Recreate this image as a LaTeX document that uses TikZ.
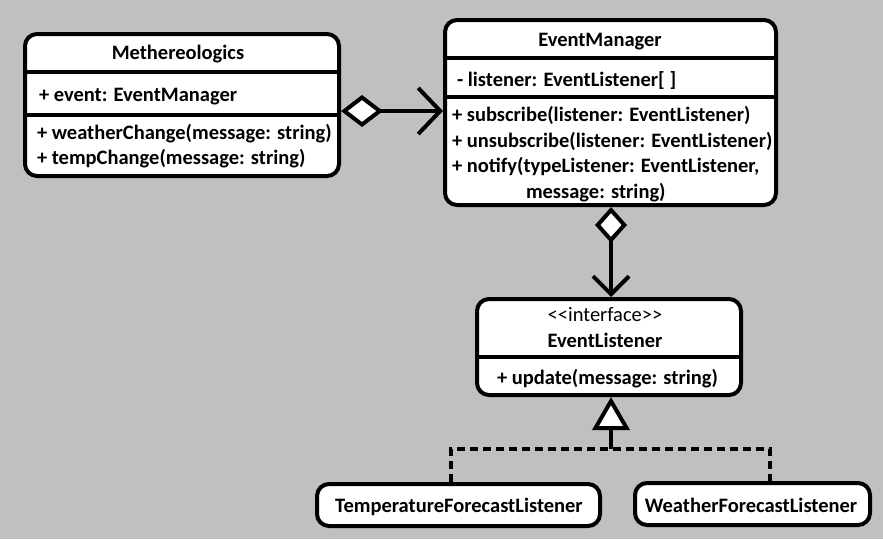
\documentclass[tikz,border=0pt]{standalone}
\usepackage{fontspec}
\newfontfamily\calib{Carlito}
\usetikzlibrary{arrows.meta}
\definecolor{bggray}{HTML}{C0C0C0}
\begin{document}
\begin{tikzpicture}[x=1pt,y=-1pt,line width=4pt,
  classbox/.style={draw=black,fill=white,rounded corners=12pt,inner sep=0pt},
  txt/.style={inner sep=0pt,font=\calib\bfseries\fontsize{20.5}{24}\selectfont,anchor=base west},
  txtr/.style={inner sep=0pt,font=\calib\fontsize{20.5}{24}\selectfont,anchor=base},
  sep/.style={draw=black,line width=4pt},
  dashline/.style={line width=4pt,dash pattern=on 8pt off 5pt}]
\fill[bggray] (0,0) rectangle (883,539);
\useasboundingbox (0,0) rectangle (883,539);
% boxes
\node[classbox,minimum width=314pt,minimum height=142pt] (meth) at (182,105) {};
\node[classbox,minimum width=331pt,minimum height=185pt] (em) at (610.5,112.5) {};
\node[classbox,minimum width=264pt,minimum height=96pt] (el) at (609,347) {};
\node[classbox,minimum width=283pt,minimum height=42pt] (tfl) at (458.5,505) {};
\node[classbox,minimum width=235pt,minimum height=42pt] (wfl) at (752.5,504) {};
% separators
\draw[sep] (meth.west |- 0,72) -- (meth.east |- 0,72);
\draw[sep] (meth.west |- 0,115) -- (meth.east |- 0,115);
\draw[sep] (em.west |- 0,58) -- (em.east |- 0,58);
\draw[sep] (em.west |- 0,97) -- (em.east |- 0,97);
\draw[sep] (el.west |- 0,357) -- (el.east |- 0,357);
% texts
\node[txt,anchor=base] (t1) at (178,59) {Methereologics};
\node[txt] (t2) at (37,101) {+ event: EventManager};
\node[txt] (t3) at (35,139) {+ weatherChange(message: string)};
\node[txt] (t4) at (35,164.5) {+ tempChange(message: string)};
\node[txt,anchor=base] (t5) at (600,46) {EventManager};
\node[txt] (t6) at (455,86) {- listener: EventListener[ ]};
\node[txt] (t7) at (450,121.7) {+ subscribe(listener: EventListener)};
\node[txt] (t8) at (450,147) {+ unsubscribe(listener: EventListener)};
\node[txt] (t9) at (450,172.5) {+ notify(typeListener: EventListener,};
\node[txt] (t10) at (524,198) {message: string)};
\node[txtr] (t11) at (605,321) {<<interface>>};
\node[txt,anchor=base] (t12) at (605,347.5) {EventListener};
\node[txt] (t13) at (495,384) {+ update(message: string)};
\node[txt,anchor=base] (t14) at (459,512.5) {TemperatureForecastListener};
\node[txt,anchor=base] (t15) at (751,512) {WeatherForecastListener};
% connectors
\draw[{Diamond[fill=white,length=42pt,width=32pt]}-{Straight Barb[length=22pt,width=46pt]}]
  (meth.east |- 0,111) -- (em.west |- 0,111);
\draw[{Diamond[fill=white,length=36pt,width=32pt]}-{Straight Barb[length=18pt,width=36pt]}]
  (em.south -| 611,0) -- (el.north -| 611,0);
\coordinate (j) at (611,449);
\draw[-{Triangle[fill=white,length=33pt,width=37pt]}] (j) -- (el.south -| j);
\draw[dashline] (tfl.north -| 451,0) |- (j) -| (wfl.north -| 770,0);
\end{tikzpicture}
\end{document}
